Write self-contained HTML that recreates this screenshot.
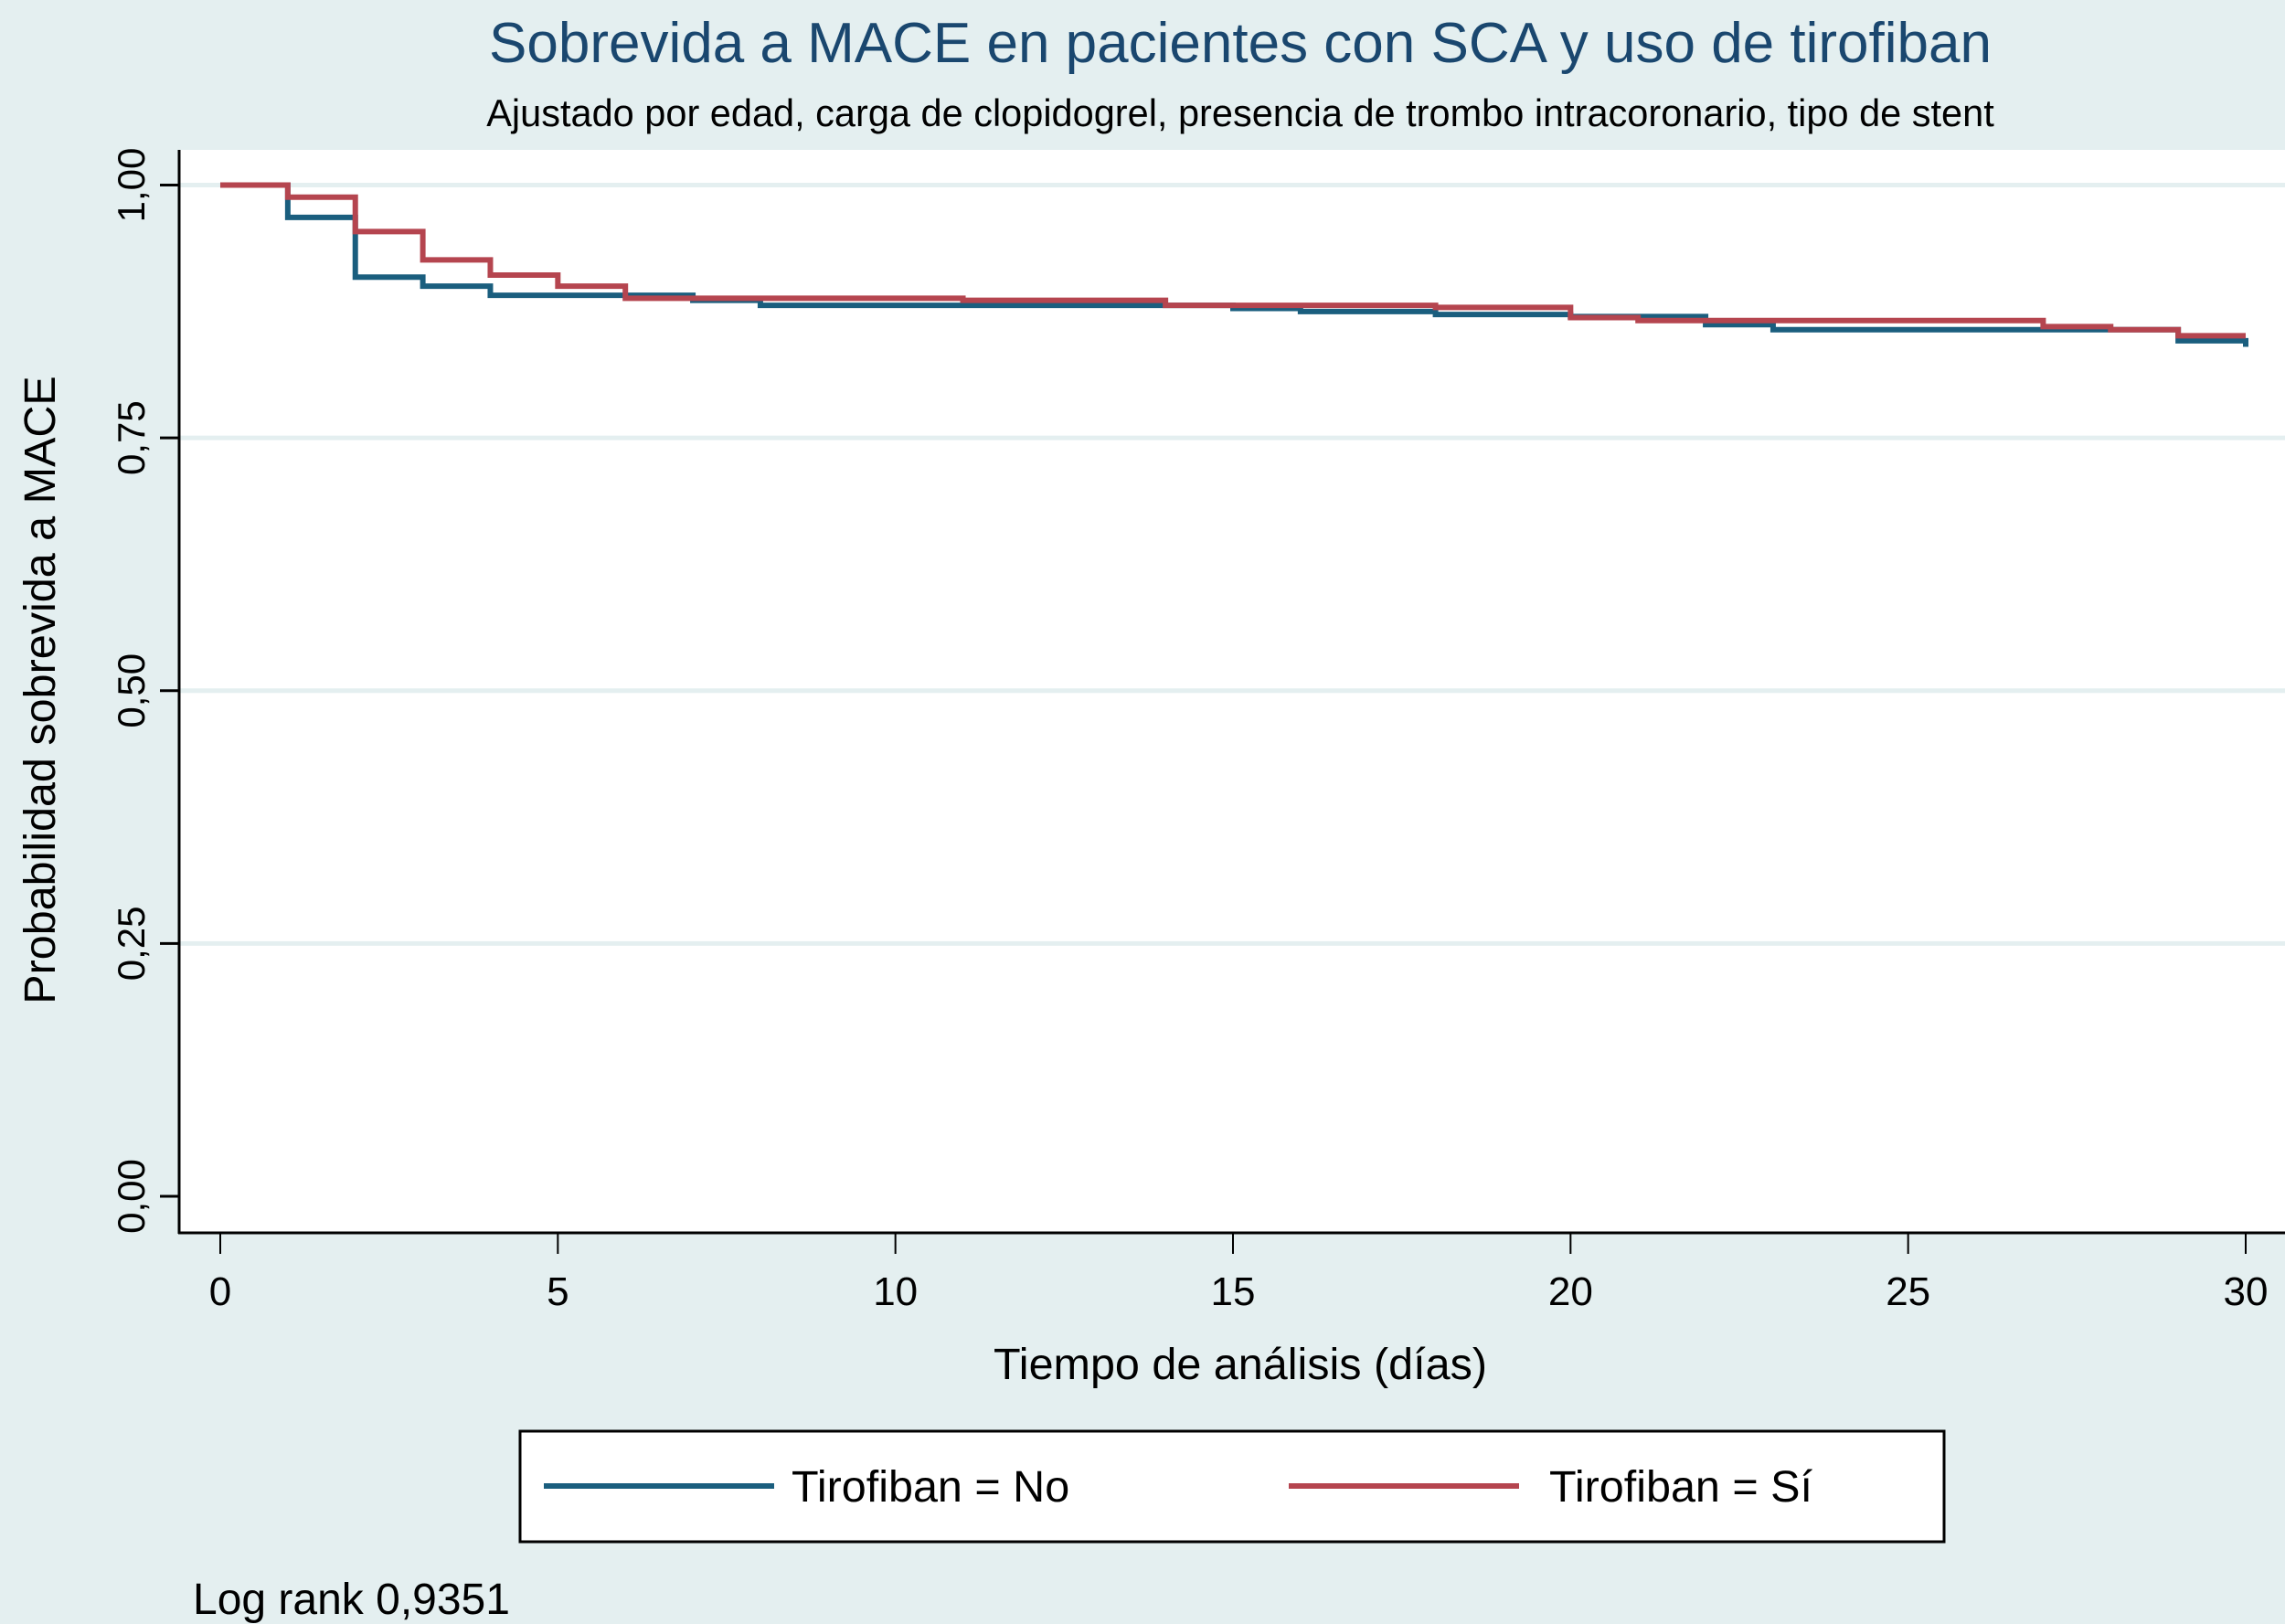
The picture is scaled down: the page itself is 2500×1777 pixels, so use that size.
<!DOCTYPE html>
<html><head><meta charset="utf-8"><style>
body{margin:0;background:#e4eff0;}
svg{display:block;font-family:"Liberation Sans",Arial,sans-serif;}
</style></head><body>
<svg id="chart" width="2500" height="1777" viewBox="0 0 2500 1777">
<rect x="0" y="0" width="2500" height="1777" fill="#e4eff0"/>
<rect x="196" y="164" width="2304" height="1185" fill="#ffffff"/>
<text x="1357" y="68" text-anchor="middle" font-size="62" fill="#1a476f">Sobrevida a MACE en pacientes con SCA y uso de tirofiban</text>
<text x="1357" y="138" text-anchor="middle" font-size="41.5" fill="#000">Ajustado por edad, carga de clopidogrel, presencia de trombo intracoronario, tipo de stent</text>
<g id="grid"></g>
<g id="series"></g>
<g id="axes"></g>
<text transform="translate(60,755) rotate(-90)" text-anchor="middle" font-size="48.5" fill="#000">Probabilidad sobrevida a MACE</text>
<text x="1357" y="1509" text-anchor="middle" font-size="48.5" fill="#000">Tiempo de análisis (días)</text>
<g>
<rect x="569" y="1566" width="1558" height="121" fill="#fff" stroke="#000" stroke-width="3"/>
<line x1="595" y1="1626" x2="847" y2="1626" stroke="#1a5e7e" stroke-width="6"/>
<text x="866" y="1643" font-size="48.5" fill="#000">Tirofiban = No</text>
<line x1="1410" y1="1626" x2="1662" y2="1626" stroke="#b5454f" stroke-width="6"/>
<text x="1695" y="1643" font-size="48.5" fill="#000">Tirofiban = Sí</text>
</g>
<text x="211" y="1766" font-size="48" fill="#000">Log rank 0,9351</text>
</svg>
<script>
const yTicks=[0,0.25,0.5,0.75,1];
const yTickLabels=["0,00","0,25","0,50","0,75","1,00"];
const xTicks=[0,5,10,15,20,25,30];
const timesNo=[0,1,2,3,4,7,8,15,16,18,20,22,23,29,30];
const survNo=[1,0.968,0.909,0.900,0.891,0.886,0.881,0.878,0.875,0.872,0.870,0.862,0.857,0.846,0.840];
const timesSi=[0,1,2,3,4,5,6,11,14,18,20,21,22,27,28,29,30];
const survSi=[1,0.988,0.954,0.926,0.911,0.900,0.888,0.886,0.881,0.879,0.869,0.866,0.866,0.860,0.857,0.851,0.851];
const NS="http://www.w3.org/2000/svg";
function xs(t){return 241+t*(2457-241)/30;}
function ys(v){return 1309-v*(1309-202.5);}
const grid=document.getElementById('grid'),axes=document.getElementById('axes'),series=document.getElementById('series');
function mk(tag,attrs,parent){const e=document.createElementNS(NS,tag);for(const k in attrs)e.setAttribute(k,attrs[k]);parent.appendChild(e);return e;}
yTicks.forEach((v,i)=>{
  if(v>0){const g=mk('line',{x1:196,x2:2500,y1:ys(v),y2:ys(v),stroke:'#e4eff0','stroke-width':5},grid);
  
  }
  const t=mk('line',{x1:175,x2:196,y1:ys(v),y2:ys(v),stroke:'#000','stroke-width':3},axes);
  
  
  const l=mk('text',{transform:`translate(158,${ys(v)}) rotate(-90)`,'text-anchor':'middle','font-size':42},axes);
  
  
  l.textContent=yTickLabels[i];
});
xTicks.forEach(t=>{
  const k=mk('line',{x1:xs(t),x2:xs(t),y1:1349,y2:1372,stroke:'#000','stroke-width':2},axes);
  
  
  const l=mk('text',{x:xs(t),y:1428,'text-anchor':'middle','font-size':44},axes);
  
  
  l.textContent=t;
});
const ax1=mk('line',{x1:196,x2:196,y1:164,y2:1350,stroke:'#000','stroke-width':3},axes);


const ax2=mk('line',{x1:195,x2:2500,y1:1349,y2:1349,stroke:'#000','stroke-width':3},axes);


function step(times,surv){let d=`M${xs(times[0])},${ys(surv[0])}`;for(let i=1;i<times.length;i++){d+=` H${xs(times[i])} V${ys(surv[i])}`;}return d;}
const pNo=mk('path',{d:step(timesNo,survNo),fill:'none',stroke:'#1a5e7e','stroke-width':6},series);


const pSi=mk('path',{d:step(timesSi,survSi),fill:'none',stroke:'#b5454f','stroke-width':6},series);


</script>
</body></html>
